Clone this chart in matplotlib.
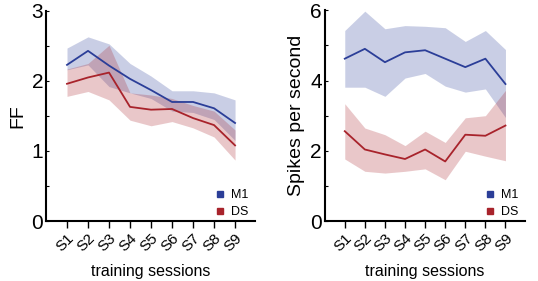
import matplotlib.pyplot as plt
import numpy as np

plt.rcParams['font.family'] = ['Liberation Sans', 'DejaVu Sans']

SESSIONS = ["S1", "S2", "S3", "S4", "S5", "S6", "S7", "S8", "S9"]

# Fano factor
FF_M1 = [2.23, 2.43, 2.22, 2.03, 1.87, 1.70, 1.70, 1.61, 1.40]
FF_M1_HI = [2.47, 2.63, 2.53, 2.25, 2.07, 1.86, 1.86, 1.83, 1.73]
FF_M1_LO = [2.16, 2.23, 1.92, 1.83, 1.75, 1.57, 1.55, 1.45, 1.15]
FF_DS = [1.96, 2.05, 2.12, 1.63, 1.59, 1.60, 1.47, 1.37, 1.08]
FF_DS_HI = [2.17, 2.25, 2.51, 1.83, 1.80, 1.75, 1.65, 1.57, 1.30]
FF_DS_LO = [1.78, 1.85, 1.73, 1.44, 1.36, 1.42, 1.33, 1.20, 0.87]

# firing rate
FR_M1 = [4.62, 4.90, 4.52, 4.80, 4.86, 4.62, 4.38, 4.62, 3.90]
FR_M1_HI = [5.42, 5.97, 5.47, 5.56, 5.54, 5.50, 5.11, 5.42, 4.88]
FR_M1_LO = [3.81, 3.81, 3.55, 4.07, 4.20, 3.84, 3.67, 3.76, 2.95]
FR_DS = [2.56, 2.04, 1.90, 1.77, 2.04, 1.70, 2.46, 2.43, 2.72]
FR_DS_HI = [3.34, 2.65, 2.46, 2.15, 2.56, 2.24, 2.94, 3.00, 3.72]
FR_DS_LO = [1.77, 1.42, 1.37, 1.42, 1.49, 1.18, 1.99, 1.85, 1.72]

BLUE = "#2b3e98"
RED = "#a8232b"

fig = plt.figure(figsize=(5.38, 2.81), dpi=100)
ax1 = fig.add_axes([0.0855, 0.2135, 0.3885, 0.7475])
ax2 = fig.add_axes([0.6035, 0.2125, 0.3715, 0.7515])


def drawPanel(ax, m1, m1hi, m1lo, ds, dshi, dslo, ymax, ylabel):
    x = np.arange(len(SESSIONS))
    ax.fill_between(x, m1lo, m1hi, color=BLUE, alpha=0.25, lw=0)
    ax.fill_between(x, dslo, dshi, color=RED, alpha=0.25, lw=0)
    ax.plot(x, m1, color=BLUE, lw=1.3)
    ax.plot(x, ds, color=RED, lw=1.3)

    ax.set_xlim(-1, 8.95)
    ax.set_ylim(0, ymax)
    for s in ["top", "right"]:
        ax.spines[s].set_visible(False)
    ax.spines["left"].set_linewidth(1.5)
    ax.spines["bottom"].set_linewidth(1.5)

    ax.set_xticks(x)
    ax.set_xticklabels(SESSIONS, rotation=45, ha="right", rotation_mode="anchor", fontsize=11)
    ax.tick_params(axis="x", direction="out", length=5, width=1, pad=2)

    ax.set_yticks(np.arange(0, ymax + 0.01, ymax / 3))
    ax.set_yticklabels([str(int(v)) for v in np.arange(0, ymax + 0.01, ymax / 3)], fontsize=15)
    ax.set_yticks(np.arange(ymax / 6, ymax, ymax / 3), minor=True)
    ax.tick_params(axis="y", which="both", direction="in", length=2, width=0.8, pad=2)

    ax.set_xlabel("training sessions", fontsize=11.5, labelpad=7)
    ax.set_ylabel(ylabel, fontsize=14, labelpad=4)

    # legend as small squares
    ax.plot([], [], "s", color=BLUE, ms=5, label="M1")
    ax.plot([], [], "s", color=RED, ms=5, label="DS")
    hs, ls = ax.get_legend_handles_labels()
    ax.legend(hs[-2:], ls[-2:], loc="lower right", frameon=False, fontsize=9,
              handlelength=0.8, handletextpad=0.5, labelspacing=0.4,
              borderaxespad=0.1, bbox_to_anchor=(1.0, -0.015))


drawPanel(ax1, FF_M1, FF_M1_HI, FF_M1_LO, FF_DS, FF_DS_HI, FF_DS_LO, 3, "FF")
drawPanel(ax2, FR_M1, FR_M1_HI, FR_M1_LO, FR_DS, FR_DS_HI, FR_DS_LO, 6, "Spikes per second")

fig.savefig("out.png", dpi=100)
